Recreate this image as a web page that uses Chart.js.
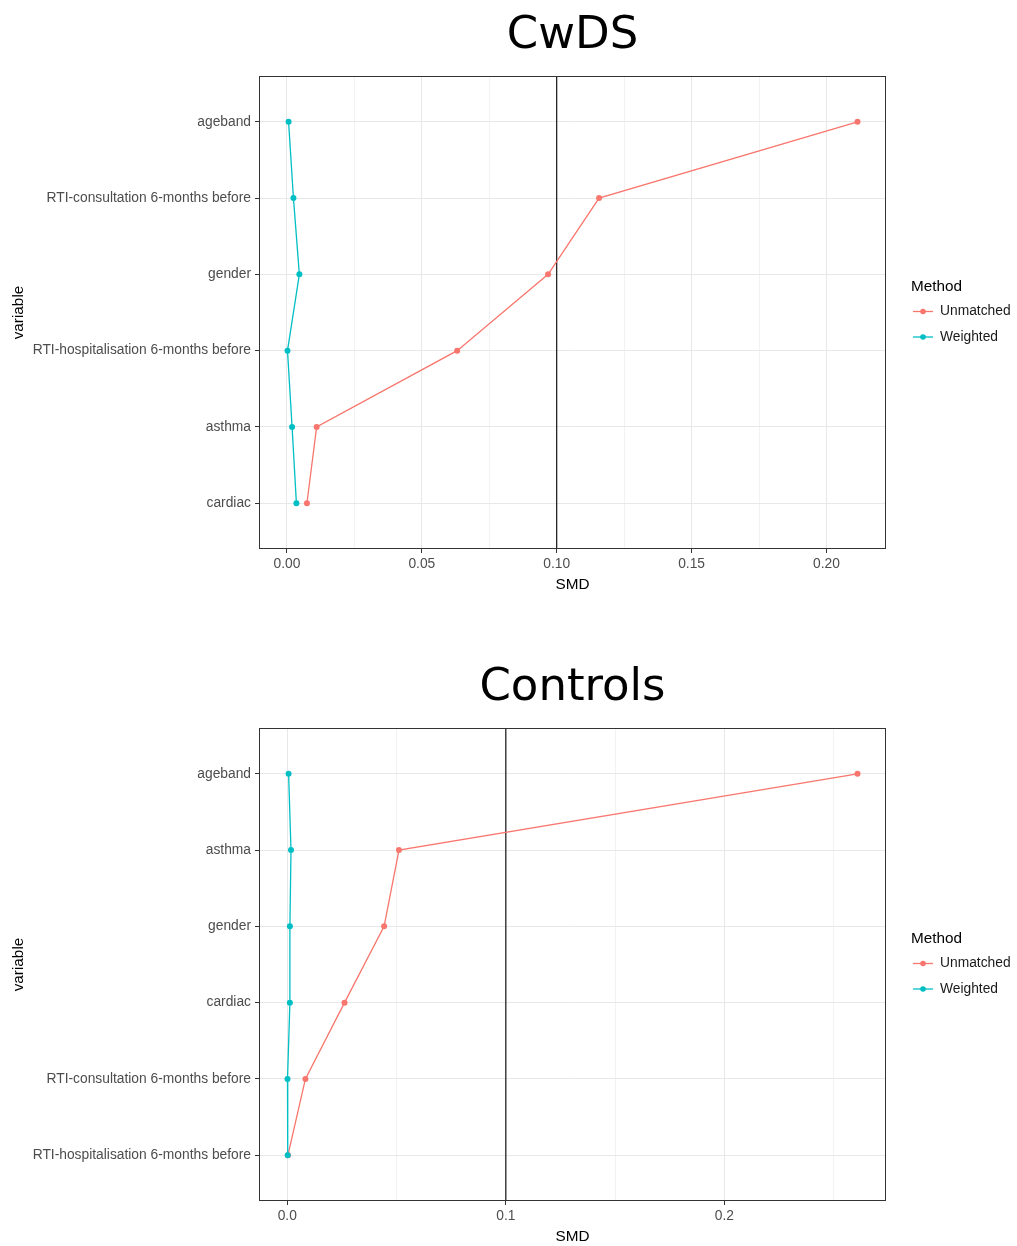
<!DOCTYPE html>
<html>
<head>
<meta charset="utf-8">
<title>SMD balance</title>
<script src="https://cdn.jsdelivr.net/npm/chart.js@4.4.0/dist/chart.umd.min.js"></script>
<style>
  body { margin: 0; background: #fff; }
  .plot { position: absolute; left: 0; }
</style>
</head>
<body>
<canvas id="cwdsChart" class="plot" width="1017" height="594" style="top:0"></canvas>
<canvas id="controlsChart" class="plot" width="1017" height="594" style="top:652px"></canvas>
<script>
// --- CwDS ---
const cwdsVariables = ['ageband', 'RTI-consultation 6-months before', 'gender',
    'RTI-hospitalisation 6-months before', 'asthma', 'cardiac'];
const cwdsUnmatched = [0.2115, 0.1157, 0.0968, 0.0631, 0.0110, 0.0074];
const cwdsWeighted = [0.0006, 0.0024, 0.0046, 0.0002, 0.0019, 0.0035];
const cwdsTicks = [0, 0.05, 0.1, 0.15, 0.2];
const cwdsTickLabels = ['0.00', '0.05', '0.10', '0.15', '0.20'];

// --- Controls ---
const controlsVariables = ['ageband', 'asthma', 'gender', 'cardiac',
    'RTI-consultation 6-months before', 'RTI-hospitalisation 6-months before'];
const controlsUnmatched = [0.2609, 0.0511, 0.0443, 0.0262, 0.0083, 0.0003];
const controlsWeighted = [0.0006, 0.0017, 0.0012, 0.0012, 0.0001, 0.0002];
const controlsTicks = [0, 0.1, 0.2];
const controlsTickLabels = ['0.0', '0.1', '0.2'];

const methods = ['Unmatched', 'Weighted'];
const methodColors = ['#F8766D', '#00BFC4'];
const smdThreshold = 0.1;

const FONT = '"Liberation Sans", Arial, sans-serif';
const TITLE_FONT = '"DejaVu Sans", Verdana, sans-serif';

// vertical reference line, panel border and ggplot-like legend
const panelPlugin = {
    id: 'panel',
    beforeDatasetsDraw(chart, args, opts) {
        const a = chart.chartArea;
        const px = chart.scales.x.getPixelForValue(opts.threshold);
        const ctx = chart.ctx;
        ctx.save();
        ctx.strokeStyle = '#000';
        ctx.lineWidth = 1.1;
        ctx.beginPath();
        ctx.moveTo(px, a.top);
        ctx.lineTo(px, a.bottom);
        ctx.stroke();
        ctx.restore();
    },
    afterDraw(chart) {
        const a = chart.chartArea;
        const ctx = chart.ctx;
        ctx.save();
        ctx.strokeStyle = '#333333';
        ctx.lineWidth = 1;
        ctx.strokeRect(a.left + 0.5, a.top + 0.5, a.width - 1, a.height - 1);

        // legend
        const cy = (a.top + a.bottom) / 2;
        const lx = a.right + 25;
        ctx.textAlign = 'left';
        ctx.textBaseline = 'middle';
        ctx.fillStyle = '#000';
        ctx.font = '15.3px ' + FONT;
        ctx.fillText('Method', lx, cy - 26);
        ctx.font = '13.8px ' + FONT;
        chart.data.datasets.forEach(function(ds, i) {
            const y = cy - 1 + i * 25.5;
            ctx.strokeStyle = ds.borderColor;
            ctx.lineWidth = 1.3;
            ctx.beginPath();
            ctx.moveTo(lx + 2, y);
            ctx.lineTo(lx + 22, y);
            ctx.stroke();
            ctx.fillStyle = ds.borderColor;
            ctx.beginPath();
            ctx.arc(lx + 12, y, 2.8, 0, Math.PI * 2);
            ctx.fill();
            ctx.fillStyle = '#1a1a1a';
            ctx.fillText(ds.label, lx + 29, y);
        });
        ctx.restore();
    }
};

function makeChart(canvasId, title, variables, unmatched, weighted, ticks, tickLabels) {
    const all = unmatched.concat(weighted);
    const lo = Math.min(...all);
    const hi = Math.max(...all);
    const pad = (hi - lo) * 0.05;
    const xMin = lo - pad;
    const xMax = hi + pad;

    // minor grid halfway between the labelled ticks
    const step = ticks[1] - ticks[0];
    const xTickObjs = [];
    ticks.forEach(function(v, i) {
        xTickObjs.push({ value: v, label: tickLabels[i], minor: false });
        const m = v + step / 2;
        if (m <= xMax) xTickObjs.push({ value: m, label: '', minor: true });
    });

    const series = [unmatched, weighted];
    const datasets = methods.map(function(name, k) {
        return {
            label: name,
            data: series[k].map(function(v, i) { return { x: v, y: i }; }),
            borderColor: methodColors[k],
            backgroundColor: methodColors[k],
            pointBackgroundColor: methodColors[k],
            borderWidth: 1.3,
            pointRadius: 3,
            pointBorderWidth: 0,
            tension: 0,
            order: k === 0 ? 2 : 1
        };
    });

    const titleSize = 45;
    const padTop = 36 - titleSize * 0.6;
    const padBottom = 76 - padTop - titleSize * 1.2;

    return new Chart(document.getElementById(canvasId), {
        type: 'line',
        data: { datasets: datasets },
        options: {
            responsive: false,
            animation: false,
            layout: { padding: { top: 0, left: 0, right: 131, bottom: 0 } },
            plugins: {
                legend: { display: false },
                tooltip: { enabled: false },
                title: {
                    display: true,
                    text: title,
                    fullSize: false,
                    color: '#000',
                    font: { family: TITLE_FONT, size: titleSize, weight: 'normal', lineHeight: 1.2 },
                    padding: { top: padTop, bottom: padBottom }
                },
                panel: { threshold: smdThreshold }
            },
            scales: {
                x: {
                    type: 'linear',
                    min: xMin,
                    max: xMax,
                    afterBuildTicks: function(scale) {
                        scale.ticks = xTickObjs.map(function(t) { return { value: t.value, minor: t.minor }; });
                    },
                    afterFit: function(scale) { scale.height = 45; },
                    ticks: {
                        autoSkip: false,
                        maxRotation: 0,
                        padding: 3,
                        color: '#4d4d4d',
                        font: { family: FONT, size: 13.8 },
                        callback: function(value, index) {
                            return xTickObjs[index] ? xTickObjs[index].label : '';
                        }
                    },
                    grid: {
                        color: function(c) { return c.tick && c.tick.minor ? '#f2f2f2' : '#e8e8e8'; },
                        tickColor: function(c) { return c.tick && c.tick.minor ? 'rgba(0,0,0,0)' : '#333333'; },
                        tickLength: 4,
                        lineWidth: 1
                    },
                    border: { display: false },
                    title: {
                        display: true,
                        text: 'SMD',
                        color: '#000',
                        font: { family: FONT, size: 15.3 },
                        padding: { top: 0, bottom: 0 }
                    }
                },
                y: {
                    type: 'linear',
                    min: -0.6,
                    max: variables.length - 0.4,
                    reverse: true,
                    afterBuildTicks: function(scale) {
                        scale.ticks = variables.map(function(v, i) { return { value: i }; });
                    },
                    afterFit: function(scale) { scale.width = 259; },
                    ticks: {
                        autoSkip: false,
                        padding: 4,
                        color: '#4d4d4d',
                        font: { family: FONT, size: 13.8 },
                        callback: function(value) { return variables[value]; }
                    },
                    grid: {
                        color: '#e8e8e8',
                        tickColor: '#333333',
                        tickLength: 4,
                        lineWidth: 1
                    },
                    border: { display: false },
                    title: {
                        display: true,
                        text: 'variable',
                        color: '#000',
                        font: { family: FONT, size: 15.3 },
                        padding: { top: 10, bottom: 0 }
                    }
                }
            }
        },
        plugins: [panelPlugin]
    });
}

makeChart('cwdsChart', 'CwDS', cwdsVariables, cwdsUnmatched, cwdsWeighted, cwdsTicks, cwdsTickLabels);
makeChart('controlsChart', 'Controls', controlsVariables, controlsUnmatched, controlsWeighted, controlsTicks, controlsTickLabels);
</script>
</body>
</html>
